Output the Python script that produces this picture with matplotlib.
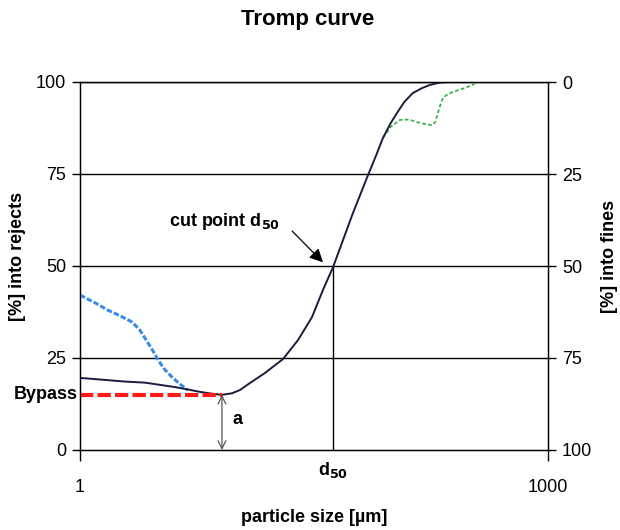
import matplotlib
matplotlib.use('Agg')
import matplotlib.pyplot as plt

plt.rcParams['font.family'] = ['Liberation Sans', 'DejaVu Sans']

# Tromp curve (particle size in um, % into rejects)
size_main = [1, 1.94, 2.61, 4.06, 5.88, 7.0, 8.13, 9.4, 10.6, 11.9, 15.3, 20.0, 25.0, 30.7,
             36.1, 41.9, 56.2, 70.2, 79, 87.5, 98, 107.7, 120, 136, 155, 175, 200, 225]
rej_main = [19.6, 18.6, 18.3, 17.1, 15.8, 15.3, 15.0, 15.4, 16.3, 17.8, 20.9, 24.7, 29.9, 36.1,
            43.5, 49.7, 64.4, 74.7, 80.0, 84.8, 88.8, 91.6, 94.6, 97.0, 98.3, 99.2, 99.8, 100]

# fine end variant (green dashed)
size_fine = [87.5, 98, 112.5, 128, 144.5, 165, 183, 190, 197, 205, 212, 228, 246, 275, 303,
             330, 356]
rej_fine = [84.8, 87.8, 89.7, 89.8, 89.1, 88.5, 88.3, 89.3, 91.6, 94.0, 95.7, 96.7, 97.3,
            98.0, 98.6, 99.3, 100]

# coarse end variant (blue dashed)
size_coarse = [1, 1.25, 1.51, 1.8, 2.15, 2.4, 2.61, 2.9, 3.16, 3.5, 3.89, 4.4, 4.92]
rej_coarse = [42.1, 40.0, 38.0, 36.5, 34.8, 32.8, 30.4, 27.3, 24.5, 21.8, 19.8, 17.8, 16.3]

d50 = 41.9
bypass = 15.0
bypass_size = 8.13

fig = plt.figure(figsize=(6.2, 5.3), dpi=100)
ax = fig.add_axes([80 / 620, 1 - 450 / 530, 468 / 620, 368 / 530])

ax.set_xscale('log')
ax.set_xlim(1, 1000)
ax.set_ylim(0, 100)

for v in [25, 50, 75, 100]:
    ax.axhline(v, color='black', lw=1.0, zorder=1)

ax.plot(size_main, rej_main, color='#1c1c3c', lw=1.4, zorder=4)
ax.plot(size_fine, rej_fine, color='#2fae3c', lw=1.2, dashes=(2.2, 1.4), zorder=3)
ax.plot(size_coarse, rej_coarse, color='#3a8be8', lw=2.2, dashes=(1.8, 0.7), zorder=3)
ax.plot([1, bypass_size], [bypass, bypass], color='#ff1a1a', lw=3.0, dashes=(3.2, 1.0), zorder=5)

# d50 line
ax.plot([d50, d50], [0, 50], color='black', lw=1.0, zorder=2)

# bypass arrow
ax.annotate('', xy=(bypass_size, 0), xytext=(bypass_size, bypass),
            arrowprops=dict(arrowstyle='<->', color='#555555', lw=0.9,
                            shrinkA=0, shrinkB=0, mutation_scale=14))
ax.text(9.5, 8.2, 'a', fontsize=13, fontweight='bold', va='center', ha='left')
ax.text(-0.005, bypass, 'Bypass', transform=ax.get_yaxis_transform(),
        fontsize=13, fontweight='bold', ha='right', va='center')

# cut point annotation
ax.annotate('', xy=(36.1, 51), xytext=(22.9, 59.5),
            arrowprops=dict(arrowstyle='-|>', color='black', lw=0.9,
                            shrinkA=0, shrinkB=0, mutation_scale=20))
ax.text(19.3, 62, 'cut point d$_{\\mathbf{50}}$', fontsize=13, fontweight='bold',
        ha='right', va='center')

ax.text(d50, -0.055, 'd$_{\\mathbf{50}}$', transform=ax.get_xaxis_transform(),
        fontsize=13, fontweight='bold', ha='center', va='center')

ax.set_xticks([1, 1000])
ax.set_xticklabels(['1', '1000'])
ax.xaxis.set_minor_locator(matplotlib.ticker.NullLocator())
ax.set_yticks([0, 25, 50, 75, 100])
ax.tick_params(axis='x', length=8, width=1, pad=13, labelsize=13, colors='black')
ax.tick_params(axis='y', length=6, width=1, pad=4, labelsize=13)

for s in ['left', 'right', 'bottom', 'top']:
    ax.spines[s].set_linewidth(1.0)

ax2 = ax.twinx()
ax2.set_ylim(100, 0)
ax2.set_yticks([0, 25, 50, 75, 100])
ax2.tick_params(axis='y', length=6, width=1, pad=4, labelsize=13)

fig.text(18 / 620, 1 - 256 / 530, '[%] into rejects', fontsize=13, fontweight='bold',
         rotation=90, ha='center', va='center')
fig.text(610 / 620, 1 - 256 / 530, '[%] into fines', fontsize=13, fontweight='bold',
         rotation=90, ha='center', va='center')
fig.text(314 / 620, 1 - 517 / 530, 'particle size [µm]', fontsize=13, fontweight='bold',
         ha='center', va='center')
fig.text(308 / 620, 1 - 19 / 530, 'Tromp curve', fontsize=16, fontweight='bold',
         ha='center', va='center')

fig.savefig('out.png', dpi=100)
